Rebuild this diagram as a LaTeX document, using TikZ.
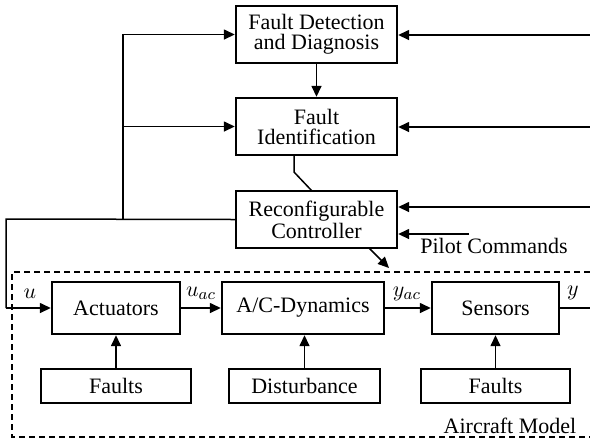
\documentclass[tikz,border=0pt]{standalone}
\usepackage{fontspec}
\setmainfont{Liberation Serif}
\usetikzlibrary{arrows.meta}
\begin{document}
\begin{tikzpicture}[x=0.5pt,y=-0.5pt,
  blk/.style={draw, line width=1.2pt, align=center, inner sep=0pt,
    font=\fontsize{11}{10}\selectfont},
  conn/.style={line width=0.75pt},
  arr/.style={conn, -{Triangle[length=5.5pt,width=5pt]}},
  lbl/.style={font=\fontsize{11}{11}\selectfont, inner sep=0pt}]
\useasboundingbox (0,0) rectangle (590,441);
% upper blocks
\node[blk, minimum width=80.5pt, minimum height=28.5pt] (fdd) at (316.5,34.5) {Fault Detection\\and Diagnosis};
\node[blk, minimum width=80.5pt, minimum height=28.5pt] (fi) at (316.5,126.5) {Fault\\Identification};
\node[blk, minimum width=80.5pt, minimum height=28.5pt] (rc) at (316.5,219.5) {Reconfigurable\\Controller};
% aircraft model blocks
\node[blk, minimum width=64pt, minimum height=26pt] (act) at (116,308) {Actuators};
\node[blk, minimum width=81pt, minimum height=26pt] (dyn) at (303,308) {A/C-Dynamics};
\node[blk, minimum width=63.5pt, minimum height=26pt] (sen) at (495.5,308) {Sensors};
\node[blk, minimum width=75pt, minimum height=17pt] (f1) at (116,386) {Faults};
\node[blk, minimum width=75.5pt, minimum height=17pt] (dist) at (304.5,386) {Disturbance};
\node[blk, minimum width=74.5pt, minimum height=17pt] (f2) at (495.5,386) {Faults};
% dashed aircraft model frame
\draw[line width=0.6pt, dash pattern=on 3pt off 2pt] (590,272) -- (12,272) -- (12,437) -- (590,437);
\node[lbl] (am) at (510,426) {Aircraft Model};
% vertical arrows
\draw[arr] (fdd.south) -- (fi.north);
\coordinate (k1) at (294,172);
\coordinate (k2) at (312,191);
\draw[conn] (294,155) -- (k1) -- (k2);
\draw[arr] (f1.north) -- (act.south);
\draw[arr] (dist.north) -- (dist.north |- dyn.south);
\draw[arr] (f2.north) -- (f2.north |- sen.south);
% right inputs
\coordinate (r1) at (590,35);
\coordinate (r2) at (590,127);
\coordinate (r3) at (590,207);
\draw[arr] (r1) -- (r1 -| fdd.east);
\draw[arr] (r2) -- (r2 -| fi.east);
\draw[arr] (r3) -- (r3 -| rc.east);
% pilot commands
\coordinate (p1) at (469,234);
\draw[arr] (p1) -- (p1 -| rc.east);
\node[lbl] (pc) at (494,246) {Pilot Commands};
% controller output arrow
\coordinate (c1) at (369,248);
\coordinate (c2) at (389,268);
\draw[arr] (c1) -- (c2);
% feedback / control signal
\coordinate (j) at (123,219);
\coordinate (l1) at (6,219);
\coordinate (l2) at (6,308);
\draw[conn] (rc.west) -- (l1) -- (l2);
\draw[arr] (l2) -- (act.west);
\draw[arr] (j) |- (fdd.west);
\draw[arr] (j |- fi.west) -- (fi.west);
% chain
\draw[arr] (act.east) -- (dyn.west);
\draw[arr] (dyn.east) -- (sen.west);
\coordinate (yo) at (590,308);
\draw[conn] (sen.east) -- (yo);
% signal labels
\node[lbl] (lu) at (30,294) {$u$};
\node[lbl] (luac) at (201,293) {$u_{ac}$};
\node[lbl] (lyac) at (407,294) {$y_{ac}$};
\node[lbl] (ly) at (573,293) {$y$};
\end{tikzpicture}
\end{document}
